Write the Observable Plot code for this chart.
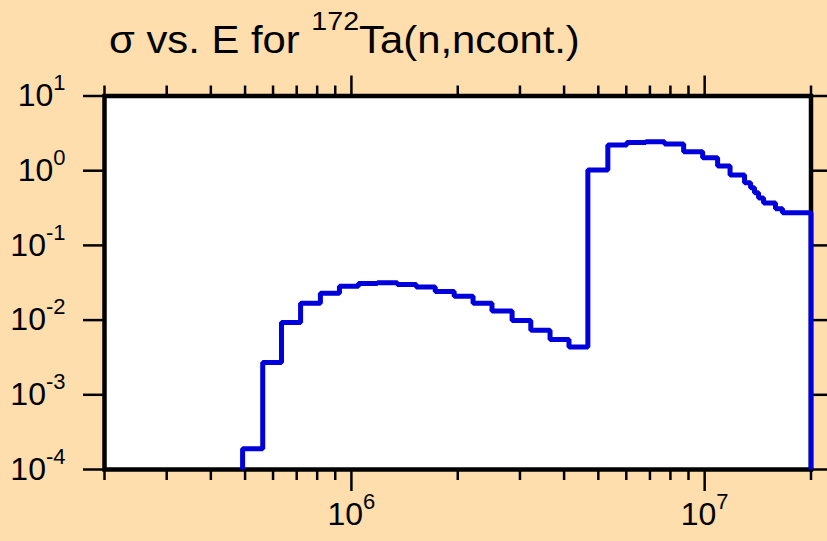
<!DOCTYPE html>
<html>
<head>
<meta charset="utf-8">
<script src="https://cdn.jsdelivr.net/npm/d3@7"></script>
<script src="https://cdn.jsdelivr.net/npm/@observablehq/plot@0.6"></script>
<style>
  html, body { margin: 0; padding: 0; background: #FFDEAD; overflow: hidden; }
  #title { position: relative; height: 60px; font-family: "Liberation Sans", Arial, sans-serif; }
  #title span.main { position: absolute; left: 109px; top: 21px; font-size: 38px; line-height: 38px; white-space: nowrap; color: #000; transform: scaleX(1.1); transform-origin: 0 0; }
  #title span.sup { font-size: 26px; position: relative; top: -23px; }
  svg { display: block; }
</style>
</head>
<body>
<div id="title"><span class="main">σ vs. E for <span class="sup">172</span>Ta(n,ncont.)</span></div>
<div id="chart"></div>
<script>
// Bin edges (eV) and cross sections (b) per bin
const binEdges = [4.92e5, 5.61e5, 6.34e5, 7.18e5, 8.17e5, 9.25e5, 1.047e6, 1.184e6, 1.349e6, 1.526e6,
  1.727e6, 1.954e6, 2.21e6, 2.5e6, 2.85e6, 3.22e6, 3.65e6, 4.13e6, 4.67e6, 5.32e6,
  6.02e6, 6.81e6, 7.7e6, 8.72e6, 9.87e6, 1.088e7, 1.18e7, 1.297e7, 1.349e7, 1.384e7,
  1.421e7, 1.468e7, 1.587e7, 1.661e7, 2e7];
const sigma = [1.9e-4, 2.7e-3, 9.3e-3, 0.0168, 0.0229, 0.0284, 0.0308, 0.0317, 0.030, 0.0277,
  0.0242, 0.0209, 0.0168, 0.0132, 0.0099, 0.0073, 0.00548, 0.00436, 1.02, 2.2,
  2.39, 2.45, 2.27, 1.79, 1.49, 1.16, 0.873, 0.689, 0.591, 0.506,
  0.43, 0.37, 0.31, 0.273];

const xDomain = [2e5, 2e7];
const yDomain = [1e-4, 10];
const xMajorTicks = [1e6, 1e7];
const xMinorTicks = [2e5, 3e5, 4e5, 5e5, 6e5, 7e5, 8e5, 9e5, 2e6, 3e6, 4e6, 5e6, 6e6, 7e6, 8e6, 9e6, 2e7];
const yTicks = [1e-4, 1e-3, 1e-2, 1e-1, 1, 10];

// build step points (step-before): value of bin i ends at edge i+1; floor at y-domain minimum
const floorVal = yDomain[0];
const pts = [{E: binEdges[0], s: floorVal}];
sigma.forEach((v, i) => pts.push({E: binEdges[i + 1], s: v}));
pts.push({E: binEdges[binEdges.length - 1], s: floorVal});

const fmt = d => "10^" + Math.round(Math.log10(d));
const none = () => "";

const svg = Plot.plot({
  width: 827,
  height: 481,
  marginLeft: 104,
  marginRight: 16.5,
  marginTop: 35.5,
  marginBottom: 72,
  style: {background: "transparent", fontFamily: "'Liberation Sans', Arial, sans-serif", fontSize: "32px", color: "black"},
  x: {type: "log", domain: xDomain},
  y: {type: "log", domain: yDomain},
  marks: [
    Plot.frame({fill: "white", stroke: null}),
    Plot.axisX({anchor: "bottom", ticks: xMinorTicks, tickSize: 11, tickFormat: none, strokeWidth: 2.5, label: null}),
    Plot.axisX({anchor: "bottom", ticks: xMajorTicks, tickSize: 22, tickPadding: 11, tickFormat: fmt, strokeWidth: 2.5, label: null}),
    Plot.axisX({anchor: "top", ticks: xMinorTicks, tickSize: 11, tickFormat: none, strokeWidth: 2.5, label: null}),
    Plot.axisX({anchor: "top", ticks: xMajorTicks, tickSize: 21, tickFormat: none, strokeWidth: 2.5, label: null}),
    Plot.axisY({anchor: "left", ticks: yTicks, tickSize: 21, tickPadding: 18, tickFormat: fmt, strokeWidth: 2.5, label: null}),
    Plot.axisY({anchor: "right", ticks: yTicks, tickSize: 20, tickFormat: none, strokeWidth: 2.5, label: null}),
    Plot.frame({stroke: "black", strokeWidth: 4.5}),
    Plot.line(pts, {x: "E", y: "s", curve: "step-before", stroke: "#0000dd", strokeWidth: 5, strokeLinejoin: "miter", strokeLinecap: "butt"})
  ]
});

// superscript exponents in tick labels
d3.select(svg).selectAll("text").each(function () {
  const m = /^10\^(-?\d+)$/.exec(this.textContent);
  if (m) {
    const t = d3.select(this);
    t.text(null);
    t.append("tspan").text("10");
    t.append("tspan").attr("dy", -16).attr("font-size", 22).text(m[1]);
  }
});

document.getElementById("chart").appendChild(svg);
</script>
</body>
</html>
